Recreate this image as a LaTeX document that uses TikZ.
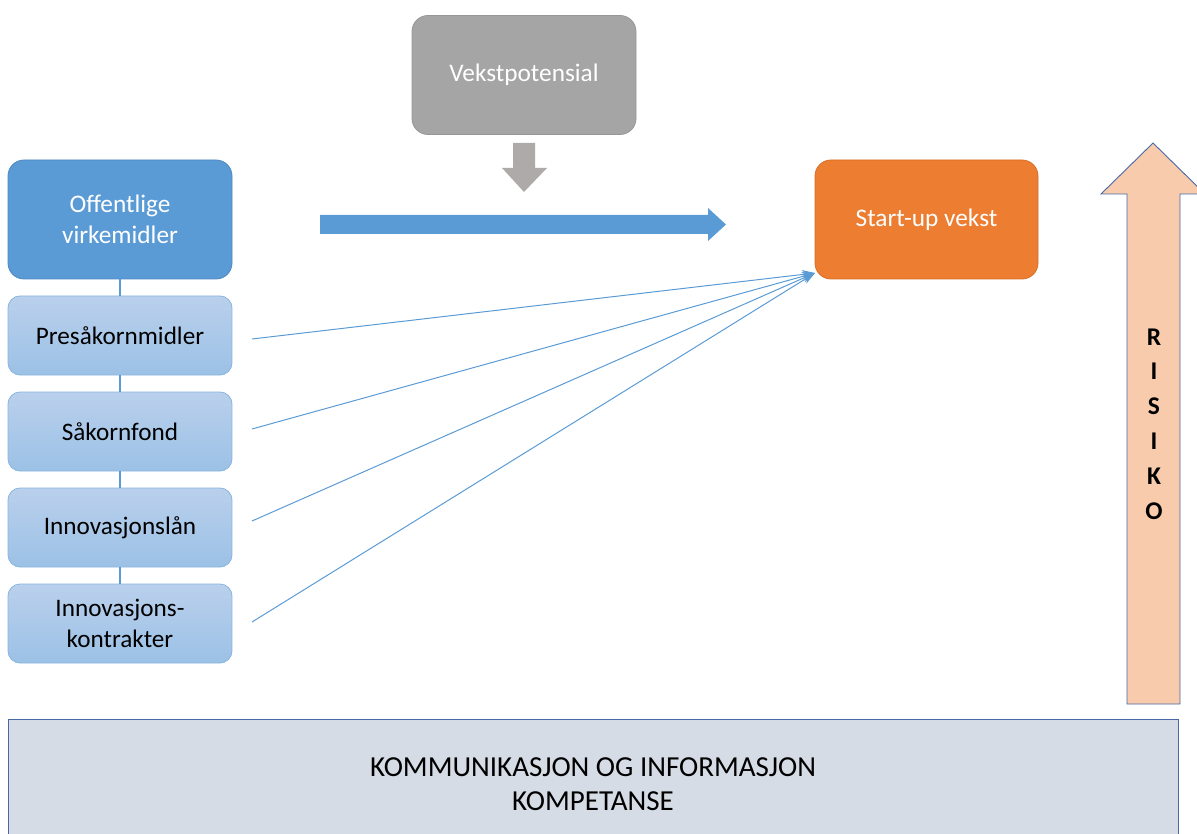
\documentclass[tikz,border=0pt]{standalone}
\usepackage{fontspec}
\setmainfont{Carlito}
\usetikzlibrary{arrows.meta}

\definecolor{grayfill}{RGB}{165,165,165}
\definecolor{grayline}{RGB}{150,150,150}
\definecolor{grayarrow}{RGB}{174,170,170}
\definecolor{bluefill}{RGB}{91,155,213}
\definecolor{blueline}{RGB}{77,135,195}
\definecolor{orangefill}{RGB}{237,125,49}
\definecolor{orangeline}{RGB}{215,110,40}
\definecolor{lighttop}{RGB}{186,208,236}
\definecolor{lightbottom}{RGB}{155,193,230}
\definecolor{lightline}{RGB}{140,180,224}
\definecolor{riskfill}{RGB}{248,203,173}
\definecolor{slate}{RGB}{72,104,166}
\definecolor{basefill}{RGB}{214,220,229}

\tikzset{
  bigbox/.style={rounded corners=16pt, minimum width=224pt, minimum height=119pt,
    align=center, text=white, font=\fontsize{25.3}{31}\selectfont, line width=0.8pt},
  subbox/.style={rounded corners=12pt, minimum width=224pt, minimum height=79pt,
    align=center, text=black, top color=lighttop, bottom color=lightbottom,
    draw=lightline, line width=0.8pt, font=\fontsize{25.2}{30.5}\selectfont},
  link/.style={draw=bluefill, line width=2.8pt},
  thinarrow/.style={draw=bluefill, line width=1pt, -{Stealth[length=13pt,width=9pt]}},
}

\begin{document}
\begin{tikzpicture}[x=1pt,y=-1pt]
  \useasboundingbox (0,0) rectangle (1197,834);
  \clip (0,0) rectangle (1197,834);

  % top driver box and its down arrow
  \node[bigbox, fill=grayfill, draw=grayline] (vekst) at (524,75) {Vekstpotensial};
  \fill[grayarrow] (513,143) -- (535,143) -- (535,168) -- (547,168) -- (524,192)
    -- (502,168) -- (513,168) -- cycle;

  % main boxes
  \node[bigbox, fill=bluefill, draw=blueline] (off) at (120,219.5) {Offentlige\\virkemidler};
  \node[bigbox, fill=orangefill, draw=orangeline, minimum width=223pt] (start) at (926.5,219.5) {Start-up vekst};

  % broad arrow towards growth
  \fill[bluefill] (320,215) -- (708,215) -- (708,208) -- (726,224.5) -- (708,241)
    -- (708,234) -- (320,234) -- cycle;

  % instrument boxes
  \node[subbox] (s1) at (120,335.5) {Presåkornmidler};
  \node[subbox] (s2) at (120,431.5) {Såkornfond};
  \node[subbox] (s3) at (120,527.5) {Innovasjonslån};
  \node[subbox] (s4) at (120,623.5) {Innovasjons-\\kontrakter};

  \draw[link] (off.south) -- (s1.north);
  \draw[link] (s1.south) -- (s2.north);
  \draw[link] (s2.south) -- (s3.north);
  \draw[link] (s3.south) -- (s4.north);

  % arrows from each instrument to start-up growth
  \coordinate (target) at (815,273);
  \coordinate (f1) at (252,339);
  \coordinate (f2) at (252,429);
  \coordinate (f3) at (252,521);
  \coordinate (f4) at (252,622);
  \draw[thinarrow] (f1) -- (target);
  \draw[thinarrow] (f2) -- (target);
  \draw[thinarrow] (f3) -- (target);
  \draw[thinarrow] (f4) -- (target);

  % risk arrow
  \draw[fill=riskfill, draw=slate, line width=0.9pt]
    (1127,704) -- (1127,194) -- (1101,194) -- (1153,143) -- (1205,194)
    -- (1180,194) -- (1180,704) -- cycle;
  \node[font=\fontsize{25.5}{34.8}\selectfont\bfseries, align=center] (risk) at (1154,424)
    {R\\I\\S\\I\\K\\O};

  % base bar
  \node[draw=slate, fill=basefill, line width=1pt, minimum width=1170pt, minimum height=130pt,
    align=center, font=\fontsize{29}{34}\selectfont] (base) at (593,784)
    {KOMMUNIKASJON OG INFORMASJON\\KOMPETANSE};
\end{tikzpicture}
\end{document}
